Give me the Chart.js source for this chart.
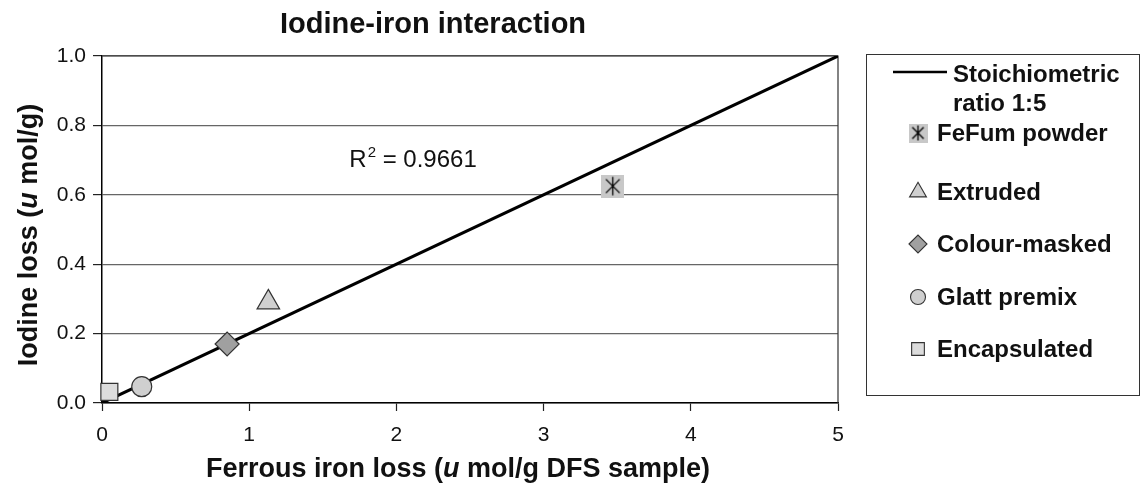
<!DOCTYPE html>
<html>
<head>
<meta charset="utf-8">
<script src="https://cdn.jsdelivr.net/npm/chart.js@4.4.0/dist/chart.umd.min.js"></script>
<style>
  body { margin: 0; background: #fff; }
  #wrap { width: 1142px; height: 487px; }
</style>
</head>
<body>
<div id="wrap"><canvas id="myChart" width="1142" height="487"></canvas></div>
<script>
// data
const seriesNames = ['Stoichiometric ratio 1:5', 'FeFum powder', 'Extruded', 'Colour-masked', 'Glatt premix', 'Encapsulated']
const ratioX = [0, 5]
const ratioY = [0, 1]
const ironLoss = [3.47, 1.13, 0.85, 0.27, 0.05]     // x, one per sample
const iodineLoss = [0.625, 0.29, 0.17, 0.047, 0.032] // y, one per sample
const xTicks = [0, 1, 2, 3, 4, 5]
const yTicks = [0, 0.2, 0.4, 0.6, 0.8, 1.0]
const rSquared = '0.9661'

const FONT = "'Liberation Sans', Arial, sans-serif"

function starBox(size) {
  const c = document.createElement('canvas')
  c.width = size; c.height = size
  const g = c.getContext('2d')
  g.fillStyle = '#c8c8c8'
  g.fillRect(0, 0, size, size)
  g.strokeStyle = '#000'
  g.lineWidth = 1.3
  const m = size * 0.2, h = size * 0.1
  g.beginPath()
  g.moveTo(m, m); g.lineTo(size - m, size - m)
  g.moveTo(size - m, m); g.lineTo(m, size - m)
  g.moveTo(size / 2, h); g.lineTo(size / 2, size - h)
  g.stroke()
  return c
}

const styles = [
  { pointStyle: starBox(23), legendStyle: starBox(19), fill: '#c8c8c8', r: 12 },
  { pointStyle: 'triangle', fill: '#d0d0d0', r: 13 },
  { pointStyle: 'rectRot', fill: '#a0a0a0', r: 12 },
  { pointStyle: 'circle', fill: '#cfcfcf', r: 10 },
  { pointStyle: 'rect', fill: '#dcdcdc', r: 12 }
]

const datasets = [{
  label: seriesNames[0],
  data: ratioX.map((x, i) => ({ x: x, y: ratioY[i] })),
  showLine: true,
  borderColor: '#000',
  borderWidth: 3,
  pointRadius: 0,
  order: 1
}]
ironLoss.forEach((x, i) => {
  const s = styles[i]
  datasets.push({
    label: seriesNames[i + 1],
    data: [{ x: x, y: iodineLoss[i] }],
    pointStyle: s.pointStyle,
    pointRadius: s.r,
    pointHoverRadius: s.r,
    backgroundColor: s.fill,
    borderColor: '#333',
    borderWidth: 1.2,
    clip: false,
    order: 0
  })
})

function textParts(ctx, parts, x, y) {
  // draws a row of text pieces with their own fonts, starting at x
  parts.forEach(p => {
    ctx.font = p.font
    ctx.fillText(p.t, x, y)
    x += ctx.measureText(p.t).width
  })
}
function partsWidth(ctx, parts) {
  let w = 0
  parts.forEach(p => { ctx.font = p.font; w += ctx.measureText(p.t).width })
  return w
}

const decor = {
  id: 'decor',
  beforeDatasetsDraw(chart) {
    const { ctx, chartArea: a } = chart
    ctx.save()
    ctx.strokeStyle = '#333'
    ctx.lineWidth = 1.2
    ctx.beginPath()
    ctx.moveTo(a.left, a.top); ctx.lineTo(a.right, a.top); ctx.lineTo(a.right, a.bottom)
    ctx.stroke()
    ctx.restore()
  },
  afterDraw(chart) {
    const ctx = chart.ctx
    const xs = chart.scales.x, ys = chart.scales.y
    ctx.save()
    ctx.fillStyle = '#111'
    ctx.textBaseline = 'alphabetic'

    // title
    ctx.font = 'bold 29px ' + FONT
    ctx.textAlign = 'center'
    ctx.fillText('Iodine-iron interaction', 433, 33)

    // x axis title
    ctx.textAlign = 'left'
    const b = 'bold 27px ' + FONT, bi = 'italic bold 27px ' + FONT
    const xt = [{ t: 'Ferrous iron loss (', font: b }, { t: 'u', font: bi }, { t: ' mol/g DFS sample)', font: b }]
    textParts(ctx, xt, 458 - partsWidth(ctx, xt) / 2, 477)

    // y axis title
    const yt = [{ t: 'Iodine loss (', font: b }, { t: 'u', font: bi }, { t: ' mol/g)', font: b }]
    ctx.save()
    ctx.translate(37, 235)
    ctx.rotate(-Math.PI / 2)
    textParts(ctx, yt, -partsWidth(ctx, yt) / 2, 0)
    ctx.restore()

    // R squared label
    const rx = xs.getPixelForValue(1.68), ry = ys.getPixelForValue(0.68)
    ctx.font = '24px ' + FONT
    ctx.fillText('R', rx, ry)
    let w = ctx.measureText('R').width
    ctx.font = '15px ' + FONT
    ctx.fillText('2', rx + w + 1, ry - 10)
    w += ctx.measureText('2').width + 1
    ctx.font = '24px ' + FONT
    ctx.fillText(' = ' + rSquared, rx + w, ry)

    // legend box
    ctx.strokeStyle = '#333'
    ctx.lineWidth = 1
    ctx.strokeRect(866.5, 54.5, 273, 341)
    const ds = chart.data.datasets
    ctx.font = 'bold 24px ' + FONT
    ctx.textBaseline = 'middle'
    ctx.strokeStyle = '#000'
    ctx.lineWidth = 2.5
    ctx.beginPath(); ctx.moveTo(893, 72); ctx.lineTo(947, 72); ctx.stroke()
    const words = ds[0].label.split(' ')
    ctx.fillText(words[0], 953, 75)
    ctx.fillText(words.slice(1).join(' '), 953, 104)
    const rowsY = [133, 192, 244, 297, 349]
    for (let i = 1; i < ds.length; i++) {
      const s = styles[i - 1]
      ctx.fillStyle = s.fill
      ctx.strokeStyle = '#333'
      ctx.lineWidth = 1.1
      Chart.helpers.drawPoint(ctx, {
        pointStyle: s.legendStyle || s.pointStyle,
        radius: s.r * 0.75,
        rotation: 0,
        borderWidth: 1.1
      }, 918, rowsY[i - 1])
      ctx.fillStyle = '#111'
      ctx.fillText(ds[i].label, 937, rowsY[i - 1] + 1)
    }
    ctx.restore()
  }
}

const ctx = document.getElementById('myChart').getContext('2d')
const myChart = new Chart(ctx, {
  type: 'scatter',
  data: { datasets: datasets },
  options: {
    responsive: false,
    animation: false,
    events: [],
    layout: { padding: { top: 56, right: 304, left: 0, bottom: 0 } },
    plugins: {
      legend: { display: false },
      title: { display: false },
      tooltip: { enabled: false }
    },
    scales: {
      x: {
        type: 'linear',
        min: xTicks[0],
        max: xTicks[xTicks.length - 1],
        afterBuildTicks: s => { s.ticks = xTicks.map(v => ({ value: v })) },
        afterFit: s => { s.height = 84 },
        border: { color: '#000', width: 1.5 },
        grid: { drawOnChartArea: false, drawTicks: true, tickLength: 8, tickColor: '#222', tickWidth: 1.2 },
        ticks: { color: '#111', font: { family: FONT, size: 21 }, padding: 12, maxRotation: 0, callback: v => v }
      },
      y: {
        type: 'linear',
        min: yTicks[0],
        max: yTicks[yTicks.length - 1],
        afterBuildTicks: s => { s.ticks = yTicks.map(v => ({ value: v })) },
        afterFit: s => { s.width = 102 },
        border: { color: '#000', width: 1.5 },
        grid: { color: '#666', lineWidth: 1.2, drawTicks: true, tickLength: 9, tickColor: '#222' },
        ticks: { color: '#111', font: { family: FONT, size: 21 }, padding: 7, callback: v => v.toFixed(1) }
      }
    }
  },
  plugins: [decor]
})
</script>
</body>
</html>
